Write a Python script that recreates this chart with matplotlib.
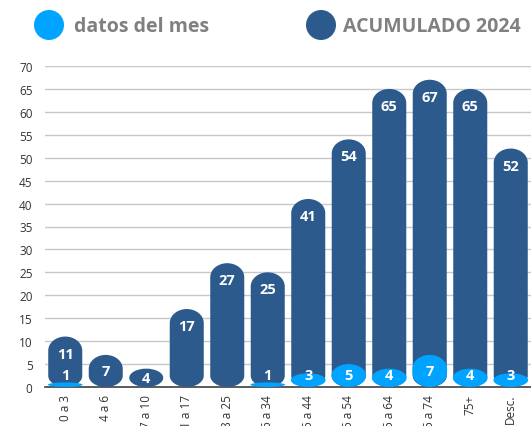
import matplotlib
matplotlib.use('Agg')
import matplotlib.pyplot as plt
from matplotlib.path import Path
from matplotlib.patches import PathPatch, Ellipse
import numpy as np

categorias = ['0 a 3', '4 a 6', '7 a 10', '1 a 17', '8 a 25', '6 a 34',
              '5 a 44', '5 a 54', '5 a 64', '5 a 74', '75+', 'Desc.']
acumulado = [11, 7, 4, 17, 27, 25, 41, 54, 65, 67, 65, 52]
mes = [1, 0, 0, 0, 0, 1, 3, 5, 4, 7, 4, 3]
yticks = list(range(0, 75, 5))

OSCURO = '#2d5a8c'
CLARO = '#00a3ff'
GRIS = '#808080'

plt.rcParams['font.family'] = ['Open Sans', 'DejaVu Sans']

W, H = 531, 427
fig = plt.figure(figsize=(W / 100, H / 100), dpi=100)
ax = fig.add_axes([45 / W, 39 / H, 486 / W, 321 / H])
ax.set_xlim(-0.5, len(categorias) - 0.5)
ax.set_ylim(0, 70)

# pixels per data unit, needed for round caps
px_y = 321 / 70
ancho = 0.84
radio = 14 / px_y


def capsula(xc, w, h, ry, ry_bajo=None):
    k = 0.5523
    rx = w / 2
    x0, x1 = xc - rx, xc + rx
    ry = min(ry, h / 2)
    rb = ry if ry_bajo is None else min(ry_bajo, h / 2)
    verts = [(x0, rb), (x0, h - ry),
             (x0, h - ry + k * ry), (xc - k * rx, h), (xc, h),
             (xc + k * rx, h), (x1, h - ry + k * ry), (x1, h - ry),
             (x1, rb),
             (x1, rb - k * rb), (xc + k * rx, 0), (xc, 0),
             (xc - k * rx, 0), (x0, rb - k * rb), (x0, rb),
             (x0, rb)]
    codes = [Path.MOVETO, Path.LINETO,
             Path.CURVE4, Path.CURVE4, Path.CURVE4,
             Path.CURVE4, Path.CURVE4, Path.CURVE4,
             Path.LINETO,
             Path.CURVE4, Path.CURVE4, Path.CURVE4,
             Path.CURVE4, Path.CURVE4, Path.CURVE4,
             Path.CLOSEPOLY]
    return Path(verts, codes)


for i, v in enumerate(acumulado):
    ax.add_patch(PathPatch(capsula(i, ancho, v, radio, radio * 0.8),
                           fc=OSCURO, ec='none', zorder=3))
    ty = v - min(3.7, v / 2)
    ax.text(i, ty, str(v), color='white', fontsize=10.5, fontweight='bold',
            ha='center', va='center', zorder=5)

for i, v in enumerate(mes):
    if v == 0:
        continue
    ax.add_patch(PathPatch(capsula(i, ancho * 1.02, v, radio), fc=CLARO, ec='none', zorder=4))
    ax.text(i, max(v / 2, 2.6), str(v), color='white', fontsize=10.5, fontweight='bold',
            ha='center', va='center', zorder=6)

ax.set_yticks(yticks)
ax.set_xticks(range(len(categorias)))
ax.set_xticklabels(categorias, rotation=90, fontsize=8.5, color='#333333')
ax.tick_params(axis='y', labelsize=8.5, colors='#333333', length=0, pad=9)
ax.tick_params(axis='x', length=0, pad=5)
ax.grid(axis='y', color='#c8c8c8', lw=1, zorder=0)
for s in ['top', 'right', 'left']:
    ax.spines[s].set_visible(False)
ax.spines['bottom'].set_color('#404040')
ax.spines['bottom'].set_linewidth(1.2)
ax.spines['bottom'].set_zorder(2)

# legend
fig.add_artist(Ellipse((49 / W, 1 - 26 / H), 30 / W, 30 / H, transform=fig.transFigure,
                       fc=CLARO, ec='none'))
fig.text(74 / W, 1 - 27 / H, 'datos del mes', fontsize=14, fontweight='bold',
         color=GRIS, va='center', ha='left')
fig.add_artist(Ellipse((321 / W, 1 - 26 / H), 30 / W, 30 / H, transform=fig.transFigure,
                       fc=OSCURO, ec='none'))
fig.text(343 / W, 1 - 27 / H, 'ACUMULADO 2024', fontsize=14, fontweight='bold',
         color=GRIS, va='center', ha='left')

fig.savefig('out.png', dpi=100)
